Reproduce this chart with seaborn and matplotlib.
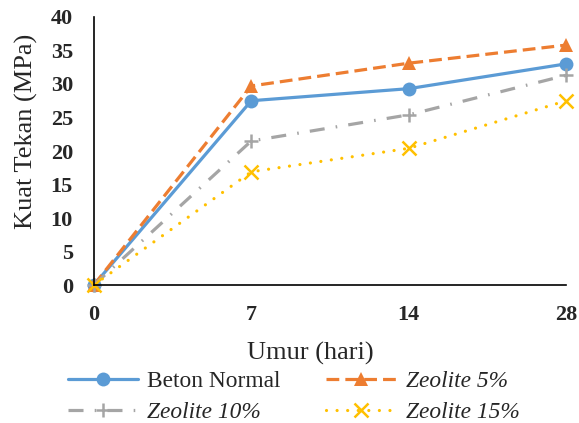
import numpy as np
import pandas as pd
import matplotlib
matplotlib.use('Agg')
import matplotlib.pyplot as plt
import seaborn as sns

umur = ['0', '7', '14', '28']
beton_normal = [0, 27.5, 29.3, 33.0]
zeolite_5 = [0, 29.7, 33.1, 35.8]
zeolite_10 = [0, 21.5, 25.4, 31.3]
zeolite_15 = [0, 16.9, 20.4, 27.5]

sns.set_style('white')
plt.rcParams['font.family'] = ['Liberation Serif', 'DejaVu Serif']

series = [
    ('Beton Normal', beton_normal, '#5B9BD5', 'o', '-'),
    ('Zeolite 5%', zeolite_5, '#ED7D31', '^', (0, (4, 1.9))),
    ('Zeolite 10%', zeolite_10, '#A5A5A5', '+', (0, (4.7, 3.5, 0.5, 3.5))),
    ('Zeolite 15%', zeolite_15, '#FFC000', 'x', (0, (0.01, 3.3))),
]

fig = plt.figure(figsize=(5.79, 4.23), dpi=100)
ax = fig.add_axes([0.162, 0.326, 0.816, 0.634])

for name, vals, col, mk, ls in series:
    df = pd.DataFrame({'umur': umur, 'kuat': vals})
    sns.lineplot(data=df, x='umur', y='kuat', ax=ax, sort=False, color=col,
                 marker=mk, linestyle=ls, linewidth=2.3, markersize=10,
                 markeredgewidth=1.8 if mk in '+x' else 0, markeredgecolor=col,
                 dash_capstyle='round' if name == 'Zeolite 15%' else 'butt',
                 label=name, clip_on=False)

ax.set_xlim(0, 3)
ax.set_ylim(0, 40)
ax.set_yticks(range(0, 41, 5))
ax.tick_params(axis='both', length=0, labelsize=16)
ax.tick_params(axis='y', pad=15)
ax.tick_params(axis='x', pad=14)
for t in ax.get_xticklabels() + ax.get_yticklabels():
    t.set_fontweight('bold')
sns.despine(ax=ax)
for s in ['left', 'bottom']:
    ax.spines[s].set_color('black')
    ax.spines[s].set_linewidth(1.2)
ax.set_xlabel('Umur (hari)', fontsize=19)
ax.set_ylabel('Kuat Tekan (MPa)', fontsize=19)
ax.xaxis.set_label_coords(0.458, -0.21)
ax.yaxis.set_label_coords(-0.119, 0.575)

# legend rows: Beton Normal / Zeolite 5% on top, 10% / 15% below
handles, labels = ax.get_legend_handles_labels()
ax.get_legend().remove()
order = [0, 2, 1, 3]
leg = fig.legend([handles[i] for i in order], [labels[i] for i in order],
                 loc='upper left', bbox_to_anchor=(0.1174, 0.124),
                 ncol=2, frameon=False, fontsize=16.8, handlelength=3.0,
                 columnspacing=1.95, labelspacing=0.42, handletextpad=0.4,
                 borderpad=0, borderaxespad=0)
for txt in leg.get_texts():
    if txt.get_text().startswith('Zeolite'):
        txt.set_fontstyle('italic')

fig.savefig('out.png', dpi=100)
